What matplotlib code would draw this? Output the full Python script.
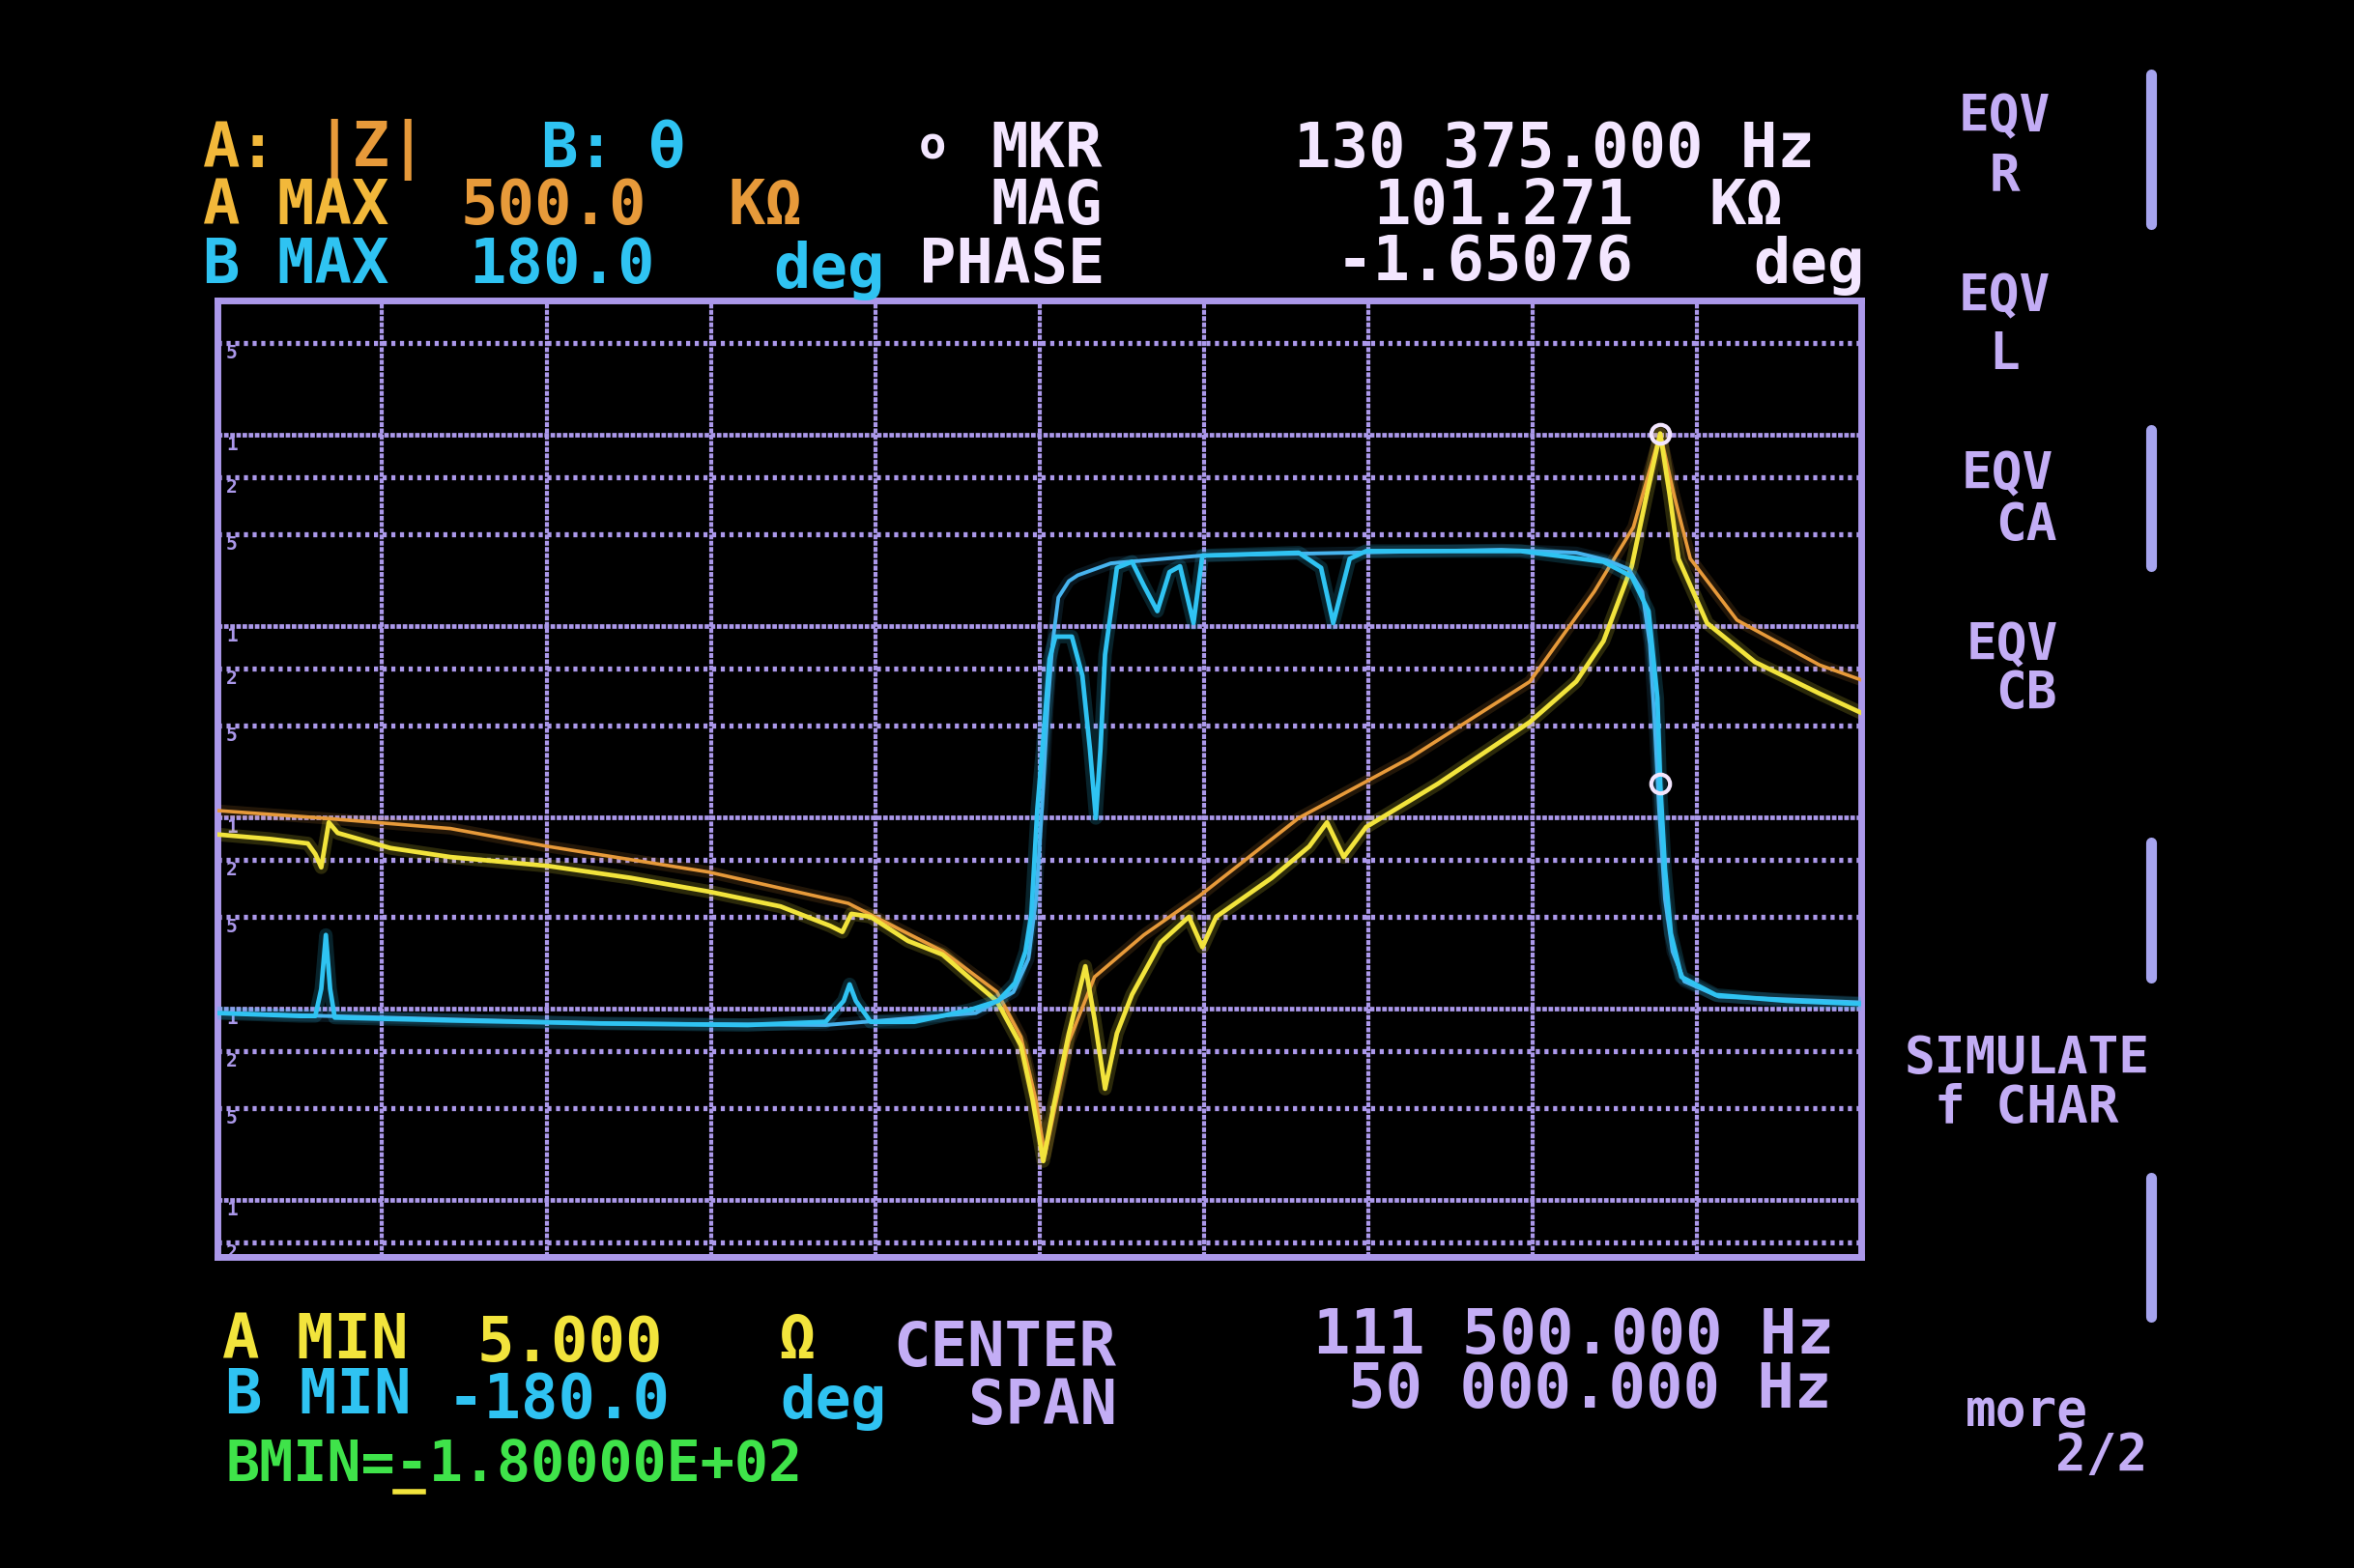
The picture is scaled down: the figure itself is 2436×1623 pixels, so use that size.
import numpy as np
import matplotlib.pyplot as plt
from matplotlib.lines import Line2D

# sweep setup (kHz)
center_khz = 111.5
span_khz = 50.0
f_start = center_khz - span_khz / 2
f_stop = center_khz + span_khz / 2

# display scales
a_min, a_max = 5.0, 500e3        # |Z| in ohm, log
b_min, b_max = -180.0, 180.0     # phase in deg

# trace A, measured |Z| (yellow)
za_freq = [86.50, 88.10, 89.24, 89.47, 89.65, 89.88, 90.15, 91.75, 93.58, 96.55,
           99.06, 101.43, 103.62, 105.13, 105.50, 105.77, 106.36, 107.50, 108.55, 109.33,
           110.20, 110.93, 111.29, 111.61, 111.93, 112.39, 112.89, 113.17, 113.49, 113.85,
           114.31, 115.18, 116.04, 116.45, 116.87, 118.56, 119.70, 120.24, 120.75, 121.43,
           123.62, 126.41, 127.82, 128.65, 129.51, 129.97, 130.375, 130.66, 130.93, 131.80,
           133.26, 135.22, 136.50]
za_ohm = [811, 768, 728, 641, 546, 938, 826, 689, 618, 555,
          481, 408, 341, 270, 251, 312, 301, 225, 191, 146,
          109, 64, 33, 15.9, 31, 74, 166, 88, 38, 74,
          118, 221, 301, 209, 301, 481, 702, 938, 618, 887,
          1496, 3140, 5110, 8320, 20510, 48750, 101271, 48750, 22440, 10330,
          6460, 4425, 3500]

# simulated |Z| (orange)
zs_freq = [86.50, 89.65, 93.58, 96.55, 101.43, 105.68, 108.55, 110.20, 110.93, 111.39,
           111.66, 111.98, 112.39, 113.17, 114.67, 116.36, 119.38, 122.76, 126.41, 128.37,
           129.56, 130.375, 130.79, 131.29, 132.71, 135.22, 136.50]
zs_ohm = [1081, 989, 871, 702, 516, 354, 199, 122, 71, 33,
          17, 31, 67, 146, 242, 387, 989, 2037, 5110, 15100,
          32800, 101271, 48750, 22440, 10710, 6240, 5200]

# trace B, measured phase (cyan)
pb_freq = [86.50, 89.01, 89.47, 89.65, 89.79, 89.92, 90.06, 93.58, 98.14, 102.62,
           104.99, 105.54, 105.72, 105.91, 106.36, 107.69, 109.38, 110.24, 110.75, 111.07,
           111.25, 111.43, 111.61, 111.80, 111.98, 112.48, 112.80, 113.03, 113.21, 113.35,
           113.49, 113.85, 114.31, 114.67, 115.08, 115.45, 115.77, 116.18, 116.45, 119.38,
           120.06, 120.43, 120.93, 121.43, 126.13, 128.65, 129.51, 130.02, 130.29, 130.375,
           130.52, 130.70, 131.02, 132.07, 134.22, 136.50]
pb_deg = [-88.1, -89.2, -89.2, -79.0, -58.7, -79.0, -89.8, -90.9, -92.0, -92.6,
          -91.4, -83.5, -77.3, -83.5, -91.4, -91.4, -86.9, -83.5, -76.8, -64.9,
          -50.8, -11.3, 14.7, 45.1, 53.6, 53.6, 38.9, 11.3, -14.7, 11.3,
          46.8, 79.5, 81.8, 72.8, 63.2, 77.9, 80.1, 58.7, 84.1, 85.2,
          79.5, 58.7, 82.9, 85.8, 85.8, 81.8, 76.2, 63.2, 30.5, -1.65,
          -33.9, -58.1, -74.5, -81.3, -83.5, -84.7]

# simulated phase (second cyan)
ps_freq = [86.50, 98.14, 104.99, 109.56, 110.70, 111.16, 111.39, 111.57, 111.75, 111.89,
           112.07, 112.39, 112.66, 113.67, 116.41, 120.97, 125.54, 127.82, 128.74, 129.42,
           129.83, 130.06, 130.20, 130.34, 130.52, 130.75, 131.11, 132.16, 136.50]
ps_deg = [-88.1, -92.0, -92.6, -88.1, -80.2, -67.7, -45.2, -11.3, 28.2, 50.8,
          68.3, 74.5, 76.7, 81.2, 84.1, 85.2, 86.3, 85.2, 82.4, 79.0,
          70.5, 50.8, 22.6, -11.3, -45.2, -64.9, -76.2, -81.9, -84.1]

mkr_freq = 130.375
mkr_mag = 101271
mkr_phase = -1.65076

# graticule lines on the |Z| scale
z_lines_major = [1e5, 1e4, 1e3, 1e2, 1e1]
z_lines_minor = [3e5, 6e4, 3e4, 6e3, 3e3, 600, 300, 60, 30, 6]
z_line_marks = {3e5: "5", 6e4: "2", 3e4: "5", 6e3: "2", 3e3: "5", 600: "2", 300: "5",
                60: "2", 30: "5", 6: "2", 1e5: "1", 1e4: "1", 1e3: "1", 1e2: "1", 1e1: "1"}

BG = "black"
GRID = "#ab98ea"
LAV = "#c3adf5"
WHITE = "#f3e6ff"
YEL = "#f2e43c"
ORA = "#e79a3a"
AMB = "#f2b83a"
CYAN = "#2fc3f2"
CYAN2 = "#47b4ef"
GREEN = "#3fe34a"

W, H = 1568, 1045  # layout measured on this grid

fig = plt.figure(figsize=(24.36, 16.24), dpi=100, facecolor=BG)
ax = fig.add_axes([145 / W, 1 - 838 / H, (1240 - 145) / W, (838 - 201) / H])
ax.set_facecolor(BG)
ax.set_yscale("log")
ax.set_xlim(f_start, f_stop)
ax.set_ylim(a_min, a_max)
ax.set_xticks([])
ax.set_yticks([])
ax.minorticks_off()
for s in ax.spines.values():
    s.set_color(GRID)
    s.set_linewidth(5)

# graticule
for f in np.linspace(f_start, f_stop, 11)[1:-1]:
    ax.axvline(f, color=GRID, lw=3.0, ls=(0, (1.2, 0.35)), zorder=1)
for z in z_lines_major:
    ax.axhline(z, color=GRID, lw=3.4, ls=(0, (1.0, 0.35)), zorder=1)
for z in z_lines_minor:
    ax.axhline(z, color=GRID, lw=3.8, ls=(0, (0.8, 0.9)), zorder=1)
for z, m in z_line_marks.items():
    ax.text(f_start + 0.25, z, m, color=GRID, fontsize=14, family="DejaVu Sans Mono",
            fontweight="bold", va="top", ha="left", zorder=1)

# |Z| traces with a little CRT glow
ax.plot(zs_freq, zs_ohm, color=ORA, lw=9, alpha=0.15, zorder=2)
ax.plot(zs_freq, zs_ohm, color=ORA, lw=2.6, zorder=3)
ax.plot(za_freq, za_ohm, color=YEL, lw=10, alpha=0.18, zorder=2)
ax.plot(za_freq, za_ohm, color=YEL, lw=3.4, zorder=4)
ax.plot([mkr_freq], [mkr_mag], "o", ms=14, mfc="none", mec=WHITE, mew=3, zorder=6)

# phase traces on their own scale
ax2 = ax.twinx()
ax2.set_ylim(b_min, b_max)
ax2.set_xlim(f_start, f_stop)
ax2.set_yticks([])
ax2.set_xticks([])
for s in ax2.spines.values():
    s.set_visible(False)
ax2.plot(ps_freq, ps_deg, color=CYAN2, lw=9, alpha=0.12, zorder=2)
ax2.plot(ps_freq, ps_deg, color=CYAN2, lw=2.8, zorder=3)
ax2.plot(pb_freq, pb_deg, color=CYAN, lw=10, alpha=0.18, zorder=2)
ax2.plot(pb_freq, pb_deg, color=CYAN, lw=3.4, zorder=4)
ax2.plot([mkr_freq], [mkr_phase], "o", ms=14, mfc="none", mec=WHITE, mew=3, zorder=6)


def put(x, y, s, color, size=46, ha="left"):
    fig.text(x / W, 1 - y / H, s, color=color, fontsize=size, ha=ha, va="center",
             family="DejaVu Sans Mono", fontweight="bold")


# header
put(135, 100, "A:", AMB)
put(210, 100, "|Z|", ORA)
put(360, 100, "B:", CYAN)
put(432, 100, "θ", CYAN)
put(612, 98, "o", WHITE, size=34)
put(660, 100, "MKR", WHITE)
put(862, 100, "130 375.000 Hz", WHITE)

put(135, 138, "A MAX", AMB)
put(307, 138, "500.0", ORA)
put(485, 138, "KΩ", ORA)
put(660, 138, "MAG", WHITE)
put(915, 138, "101.271", WHITE)
put(1138, 138, "KΩ", WHITE)

put(135, 177, "B MAX", CYAN)
put(312, 177, "180.0", CYAN)
put(515, 180, "deg", CYAN)
put(612, 177, "PHASE", WHITE)
put(890, 175, "-1.65076", WHITE)
put(1168, 177, "deg", WHITE)

# footer
put(148, 893, "A MIN", YEL)
put(318, 895, "5.000", YEL)
put(518, 893, "Ω", YEL)
put(595, 898, "CENTER", LAV)
put(875, 890, "111 500.000 Hz", LAV)

put(150, 930, "B MIN", CYAN)
put(298, 933, "-180.0", CYAN)
put(520, 934, "deg", CYAN, size=44)
put(645, 937, "SPAN", LAV)
put(898, 926, "50 000.000 Hz", LAV)

put(150, 976, "BMIN=-1.80000E+02", GREEN, size=42)
# input cursor under the sign
fig.add_artist(Line2D([263 / W, 282 / W], [1 - 994 / H, 1 - 994 / H], color=YEL, lw=4))

# softkey labels
soft = [(1335, 78, "EQV"), (1335, 117, "R"), (1335, 198, "EQV"), (1335, 236, "L"),
        (1337, 316, "EQV"), (1350, 350, "CA"), (1340, 430, "EQV"), (1350, 462, "CB"),
        (1350, 705, "SIMULATE"), (1350, 738, "f CHAR"), (1350, 940, "more"),
        (1400, 970, "2/2")]
for x, y, s in soft:
    put(x, y, s, LAV, size=38, ha="center")

for y0, y1 in [(50, 150), (287, 378), (562, 652), (785, 878)]:
    fig.add_artist(Line2D([1433 / W, 1433 / W], [1 - y0 / H, 1 - y1 / H],
                          color="#a6a4ee", lw=8, solid_capstyle="round"))

fig.savefig("out.png", dpi=100, facecolor=BG)
